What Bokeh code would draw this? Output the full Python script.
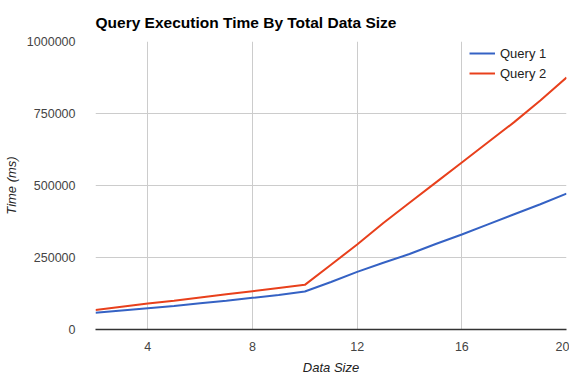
from bokeh.plotting import figure
from bokeh.embed import file_html
from bokeh.resources import INLINE
from bokeh.models import Range1d, FixedTicker, Legend, LegendItem, NumeralTickFormatter

data_size = [2, 3, 4, 5, 6, 7, 8, 9, 10, 11, 12, 13, 14, 15, 16, 17, 18, 19, 20]
query1 = [58000, 66000, 74000, 82000, 91000, 100000, 110000, 120000, 132000,
          165000, 200000, 232000, 262000, 297000, 330000, 365000, 400000, 435000, 472000]
query2 = [68000, 79000, 90000, 100000, 111000, 122000, 133000, 144000, 155000,
          225000, 295000, 370000, 440000, 510000, 580000, 650000, 720000, 795000, 875000]
x_ticks = [4, 8, 12, 16, 20]
y_ticks = [0, 250000, 500000, 750000, 1000000]

FONT = "Liberation Sans"

p = figure(frame_width=471, frame_height=288, output_backend="svg", toolbar_location=None,
           x_range=Range1d(2, 20), y_range=Range1d(0, 1000000),
           title="Query Execution Time By Total Data Size",
           min_border_left=87, min_border_right=3, min_border_top=33, min_border_bottom=0)
p.outline_line_color = None
p.background_fill_color = "white"

p.title.text_font = FONT
p.title.text_font_size = "15.5px"
p.title.text_font_style = "bold"
p.title.text_color = "#000000"
p.title.standoff = 22

r1 = p.line(data_size, query1, line_color="#3562C4", line_width=2)
r2 = p.line(data_size, query2, line_color="#E8401C", line_width=2)

for ax in (p.xaxis[0], p.yaxis[0]):
    ax.major_tick_line_color = None
    ax.minor_tick_line_color = None
    ax.major_label_text_font = FONT
    ax.major_label_text_font_size = "12.5px"
    ax.major_label_text_color = "#444444"
    ax.axis_label_text_font = FONT
    ax.axis_label_text_font_size = "13px"
    ax.axis_label_text_font_style = "italic"
    ax.axis_label_text_color = "#222222"

p.xaxis.ticker = FixedTicker(ticks=x_ticks)
p.yaxis.ticker = FixedTicker(ticks=y_ticks)
p.yaxis.formatter = NumeralTickFormatter(format="0")
p.xaxis.axis_label = "Data Size"
p.yaxis.axis_label = "Time (ms)"
p.xaxis.axis_line_color = "#333333"
p.xaxis.axis_line_width = 1.5
p.yaxis.axis_line_color = None
p.xaxis.major_label_standoff = 6
p.xaxis.axis_label_standoff = 6
p.yaxis.major_label_standoff = 14
p.yaxis.axis_label_standoff = 5

p.xgrid.grid_line_color = "#cccccc"
p.ygrid.grid_line_color = "#cccccc"
p.xgrid.ticker = FixedTicker(ticks=x_ticks)
p.ygrid.ticker = FixedTicker(ticks=y_ticks)

legend = Legend(items=[LegendItem(label="Query 1", renderers=[r1]),
                       LegendItem(label="Query 2", renderers=[r2])],
                location="top_right")
legend.border_line_color = None
legend.background_fill_alpha = 0
legend.label_text_font = FONT
legend.label_text_font_size = "13px"
legend.label_text_color = "#222222"
legend.glyph_width = 26
legend.label_width = 64
legend.spacing = 0
legend.margin = 2
p.add_layout(legend)

open("out.html", "w").write(file_html(p, INLINE))
